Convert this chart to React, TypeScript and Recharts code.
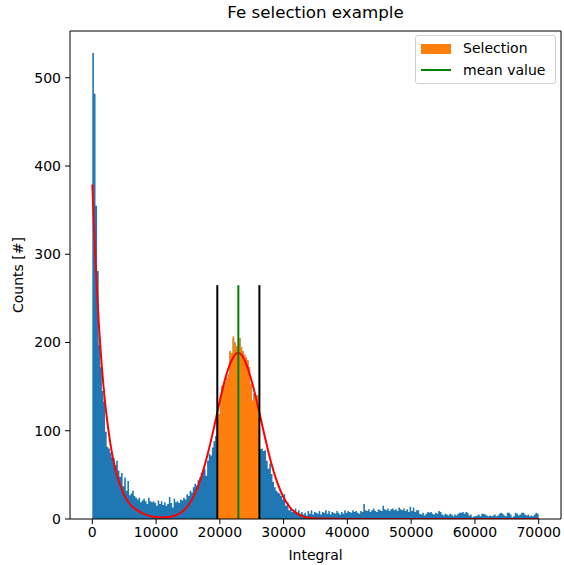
import {
  Area,
  ComposedChart,
  Label,
  Line,
  ReferenceLine,
  XAxis,
  YAxis,
} from "recharts";

// histogram bins: 250 wide, 0 .. 70000
const binWidth = 250;
const histCounts = [
  528, 482, 355, 281, 197, 172, 145, 133, 99, 82, 80, 75, 70, 69, 61, 66, 55, 48, 52, 37, 47, 32, 43, 27,
  29, 32, 26, 24, 22, 24, 19, 21, 23, 20, 17, 24, 20, 19, 20, 18,
  15, 21, 17, 20, 16, 19, 15, 17, 25, 18, 13, 23, 19, 20, 18, 22, 21, 24, 22, 28,
  26, 32, 30, 36, 40, 38, 44, 47, 52, 55,
  57, 49, 66, 74, 72, 81, 88, 94,
  115, 119, 140, 151, 150, 155, 160, 164, 190, 188, 205, 200, 196, 192, 205, 195, 190, 186, 183, 180, 172, 153, 134, 142, 140, 140, 115,
  79, 80, 77, 78, 66, 57, 63, 51, 42, 36, 32, 30, 29, 26, 22, 28, 15, 19, 10, 12, 8,
  9, 12,
  7, 10, 6, 8, 5, 7, 4, 9, 6, 10, 5, 8, 7, 6, 9, 5, 8, 7, 10, 6,
  9, 5, 8, 7, 6, 9, 7, 5, 8, 6, 10, 7, 9, 8, 7, 10, 8, 9, 7, 6,
  9, 8, 17, 10, 9, 11, 8, 10, 12, 9, 8, 11, 10, 9, 15, 11, 10, 12, 9, 11,
  12, 10, 11, 9, 13, 11, 10, 12, 9, 11, 8, 14, 9, 13, 8, 10, 10, 6, 5, 7,
  4, 6, 8, 7, 8, 6, 5, 7, 6, 9, 8, 5, 4, 6, 5, 4, 6, 5, 3, 5,
  4, 6, 7, 7, 8, 6, 8, 7, 4, 5, 2, 3, 3, 4, 5, 3, 6, 6, 5, 4,
  3, 4, 3, 4, 5, 3, 4, 6, 7, 6, 4, 3, 7, 7, 5, 2, 3, 7, 6, 4,
  5, 7, 7, 5, 4, 5, 3, 4, 3, 5, 7, 6,
];

// selected events (orange histogram)
const selFirstBin = 78;
const selCounts = [
  115, 119, 140, 151, 150, 155, 160, 164, 190, 188, 207, 200, 196, 192, 205, 195, 190, 186, 183, 180, 172, 153, 134, 142, 140, 140, 115,
];

// fitted curve
const fitX = [
  0, 500, 1000, 1500, 2000, 2500, 3000, 3500, 4000, 4500, 5000, 6000, 7000, 8000, 9000, 10000,
  11000, 12000, 13000, 14000, 15000, 16000, 17000, 18000, 19000, 20000, 21000, 22000, 22750,
  23000, 24000, 25000, 26000, 27000, 28000, 29000, 30000, 31000, 32000, 33000, 34000, 35000,
  40000, 50000, 60000, 70000,
];
const fitY = [
  379, 291, 224, 172, 132, 102, 78, 60, 46, 36, 27, 16, 10, 6, 3.5, 2.2,
  1.8, 2.2, 3.9, 7.7, 15, 27, 45.5, 71, 101, 134, 163, 182, 188,
  188, 178, 156, 127, 95, 65, 41.5, 24.4, 13.2, 6.6, 3, 1.3, 0.5,
  0, 0, 0, 0,
];

const cutLow = 19600;
const cutHigh = 26200;
const meanValue = 22900;
const markerTop = 265;

const xDomain = [-3500, 73500];
const yDomain = [0, 553];
const xTicks = [0, 10000, 20000, 30000, 40000, 50000, 60000, 70000];
const yTicks = [0, 100, 200, 300, 400, 500];

const fitMap = new Map(fitX.map((x, i) => [x, fitY[i]]));
const selEnd = selFirstBin + selCounts.length;
const rows = histCounts.concat([0]).map((c, i) => {
  const x = i * binWidth;
  let sel: number | null = null;
  if (i >= selFirstBin && i < selEnd) sel = selCounts[i - selFirstBin];
  else if (i === selEnd) sel = 0;
  return { x, count: c, sel, fit: fitMap.has(x) ? fitMap.get(x) : null };
});

const font = "DejaVu Sans, sans-serif";

function XLabel(props: any) {
  const vb = props.viewBox || { x: 70, y: 519, width: 491, height: 46 };
  return (
    <text x={vb.x + vb.width / 2} y={555} textAnchor="middle" dominantBaseline="central" fontSize={14} fill="#000">
      Integral
    </text>
  );
}

function YLabel(props: any) {
  const vb = props.viewBox || { x: 20, y: 31, width: 50, height: 488 };
  const cx = 18;
  const cy = vb.y + vb.height / 2;
  return (
    <text x={cx} y={cy} transform={`rotate(-90 ${cx} ${cy})`} textAnchor="middle" dominantBaseline="central" fontSize={14} fill="#000">
      Counts [#]
    </text>
  );
}

export default function App() {
  return (
    <div style={{ position: "absolute", left: 0, top: 0, width: 564, height: 565, background: "#fff", fontFamily: font }}>
      <div style={{ position: "absolute", left: 70, top: 2, width: 491, textAlign: "center", fontSize: 16.7, color: "#000" }}>
        Fe selection example
      </div>
      <ComposedChart
        width={564}
        height={565}
        data={rows}
        margin={{ top: 31, right: 3, bottom: 0, left: 20 }}
        style={{ fontFamily: font }}
      >
        <XAxis
          dataKey="x"
          type="number"
          domain={xDomain}
          ticks={xTicks}
          interval={0}
          allowDataOverflow
          height={46}
          tickSize={5}
          tickMargin={3}
          tick={{ fill: "#000", fontSize: 14 }}
          axisLine={{ stroke: "#000" }}
          tickLine={{ stroke: "#000" }}
        >
          <Label content={XLabel} />
        </XAxis>
        <YAxis
          type="number"
          domain={yDomain}
          ticks={yTicks}
          interval={0}
          allowDataOverflow
          width={50}
          tickSize={5}
          tickMargin={4}
          tick={{ fill: "#000", fontSize: 14 }}
          axisLine={{ stroke: "#000" }}
          tickLine={{ stroke: "#000" }}
        >
          <Label content={YLabel} />
        </YAxis>
        <Area
          dataKey="count"
          type="stepAfter"
          stroke="none"
          fill="#1f77b4"
          fillOpacity={1}
          connectNulls
          dot={false}
          activeDot={false}
          isAnimationActive={false}
        />
        <Area
          dataKey="sel"
          type="stepAfter"
          stroke="none"
          fill="#ff7f0e"
          fillOpacity={1}
          connectNulls={false}
          dot={false}
          activeDot={false}
          isAnimationActive={false}
        />
        <Line
          dataKey="fit"
          type="monotone"
          stroke="#ff0000"
          strokeWidth={2}
          connectNulls
          dot={false}
          activeDot={false}
          isAnimationActive={false}
        />
        <ReferenceLine segment={[{ x: cutLow, y: 0 }, { x: cutLow, y: markerTop }]} stroke="#000" strokeWidth={2} />
        <ReferenceLine segment={[{ x: cutHigh, y: 0 }, { x: cutHigh, y: markerTop }]} stroke="#000" strokeWidth={2} />
        <ReferenceLine segment={[{ x: meanValue, y: 0 }, { x: meanValue, y: markerTop }]} stroke="#008000" strokeWidth={2} />
        {/* top and right spines */}
        <ReferenceLine y={yDomain[1]} stroke="#000" strokeWidth={1} />
        <ReferenceLine x={xDomain[1]} stroke="#000" strokeWidth={1} />
      </ComposedChart>
      <div
        style={{
          position: "absolute",
          left: 415,
          top: 35,
          width: 139,
          height: 47,
          border: "1px solid #d0d0d0",
          borderRadius: 3,
          background: "rgba(255,255,255,0.8)",
          fontSize: 14,
          color: "#000",
        }}
      >
        <div style={{ position: "absolute", left: 5, top: 8, width: 30, height: 10, background: "#ff7f0e" }} />
        <div style={{ position: "absolute", left: 47, top: 4, lineHeight: "16px" }}>Selection</div>
        <div style={{ position: "absolute", left: 5, top: 33, width: 30, height: 2, background: "#008000" }} />
        <div style={{ position: "absolute", left: 47, top: 26, lineHeight: "16px" }}>mean value</div>
      </div>
    </div>
  );
}
